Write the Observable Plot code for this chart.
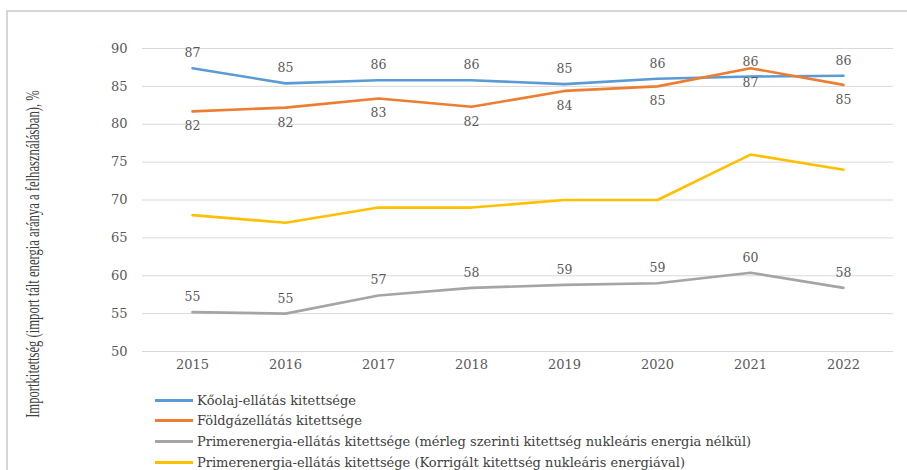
<!DOCTYPE html>
<html>
<head>
<meta charset="utf-8">
<script src="https://cdn.jsdelivr.net/npm/d3@7"></script>
<script src="https://cdn.jsdelivr.net/npm/@observablehq/plot@0.6"></script>
<style>
  html, body { margin: 0; padding: 0; background: #fff; overflow: hidden; }
  #wrap { position: relative; width: 907px; height: 470px; }
  #border { position: absolute; left: 6px; top: 10px; width: 940px; height: 500px; border: 2px solid #d6d6d6; box-sizing: border-box; }
  #chart { position: absolute; left: 0; top: 0; }
  #legend { position: absolute; left: 155px; top: 390px; font-family: "DejaVu Serif", serif; font-size: 13px; line-height: 15px; color: #404040; }
  .row { display: flex; align-items: center; height: 20.6px; }
  .sw { width: 38px; height: 3px; margin-right: 4px; }
</style>
</head>
<body>
<div id="wrap">
  <div id="border"></div>
  <div id="chart"></div>
  <div id="legend"></div>
</div>
<script>
const years = [2015, 2016, 2017, 2018, 2019, 2020, 2021, 2022];
const koolaj = [87.4, 85.4, 85.8, 85.8, 85.3, 86.0, 86.3, 86.4];
const foldgaz = [81.7, 82.2, 83.4, 82.3, 84.4, 85.0, 87.4, 85.2];
const primerNelkul = [55.2, 55.0, 57.4, 58.4, 58.8, 59.0, 60.4, 58.4];
const primerKorr = [68, 67, 69, 69, 70, 70, 76, 74];
const seriesNames = [
  "Kőolaj-ellátás kitettsége",
  "Földgázellátás kitettsége",
  "Primerenergia-ellátás kitettsége (mérleg szerinti kitettség nukleáris energia nélkül)",
  "Primerenergia-ellátás kitettsége (Korrigált kitettség nukleáris energiával)"
];
const seriesColors = ["#5B9BD5", "#ED7D31", "#A5A5A5", "#FFC000"];
const yTicks = [50, 55, 60, 65, 70, 75, 80, 85, 90];
const yTitle = "Importkitettség (import tált energia aránya a felhasználásban), %";

const seriesValues = [koolaj, foldgaz, primerNelkul, primerKorr];
const rows = seriesNames.flatMap((s, i) => years.map((y, j) => ({year: y, value: seriesValues[i][j], series: s})));
const bySeries = s => rows.filter(d => d.series === s);

const textColor = "#595959";
const font = "DejaVu Serif";

const plot = Plot.plot({
  width: 907,
  height: 470,
  marginLeft: 142,
  marginRight: 14,
  marginTop: 48,
  marginBottom: 119,
  style: {fontFamily: font, fontSize: "13px", color: textColor, background: "transparent"},
  x: {type: "point", domain: years, padding: 0.5, label: null},
  y: {domain: [50, 90], ticks: yTicks, label: null},
  color: {domain: seriesNames, range: seriesColors},
  marks: [
    Plot.ruleY(yTicks, {stroke: "#d9d9d9", strokeWidth: 1}),
    Plot.axisY({ticks: yTicks, tickSize: 0, tickPadding: 15, label: null, fontSize: 13, fill: textColor}),
    Plot.axisX({tickSize: 0, tickPadding: 8, label: null, fontSize: 13, fill: textColor, tickFormat: d => String(d)}),
    Plot.line(bySeries(seriesNames[3]), {x: "year", y: "value", stroke: "series", strokeWidth: 2.6}),
    Plot.line(bySeries(seriesNames[2]), {x: "year", y: "value", stroke: "series", strokeWidth: 2.6}),
    Plot.line(bySeries(seriesNames[0]), {x: "year", y: "value", stroke: "series", strokeWidth: 2.6}),
    Plot.line(bySeries(seriesNames[1]), {x: "year", y: "value", stroke: "series", strokeWidth: 2.6}),
    Plot.text(bySeries(seriesNames[0]), {x: "year", y: "value", text: d => String(Math.round(d.value)), dy: -15, fill: textColor, fontSize: 12.5}),
    Plot.text(bySeries(seriesNames[1]), {x: "year", y: "value", text: d => String(Math.round(d.value)), dy: 15, fill: textColor, fontSize: 12.5}),
    Plot.text(bySeries(seriesNames[2]), {x: "year", y: "value", text: d => String(Math.round(d.value)), dy: -15, fill: textColor, fontSize: 12.5})
  ]
});
document.getElementById("chart").appendChild(plot);

// y-axis title (condensed serif, scaled horizontally to match reference length)
const t = d3.select(plot).append("text")
  .attr("text-anchor", "middle")
  .attr("font-family", "Liberation Serif")
  .attr("font-size", 18)
  .attr("fill", "#404040")
  .text(yTitle);
const natural = t.node().getComputedTextLength() || 480;
const sx = 328 / natural;
t.attr("transform", `translate(39,254) rotate(-90) scale(${sx},1)`);

// legend
const leg = d3.select("#legend");
seriesNames.forEach((s, i) => {
  const r = leg.append("div").attr("class", "row");
  r.append("div").attr("class", "sw").style("background", seriesColors[i]);
  r.append("span").text(s);
});
</script>
</body>
</html>
